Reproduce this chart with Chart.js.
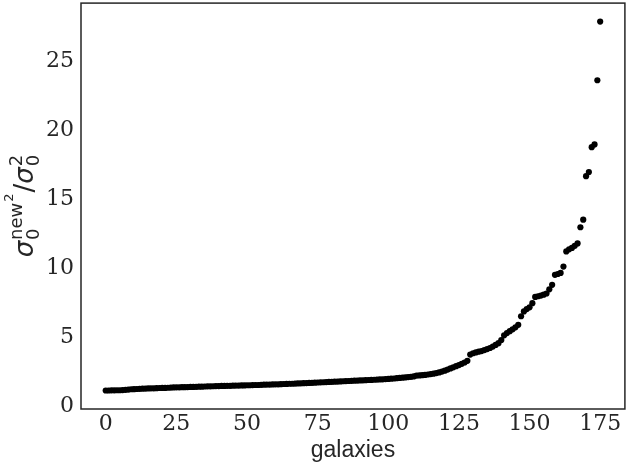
<!DOCTYPE html>
<html>
<head>
<meta charset="utf-8">
<script src="https://cdn.jsdelivr.net/npm/chart.js@4.4.0/dist/chart.umd.min.js"></script>
<style>
  html, body { margin: 0; padding: 0; background: #fff; }
  canvas { display: block; }
</style>
</head>
<body>
<canvas id="chart" width="628" height="467"></canvas>
<script>
// sigma0 new^2 / sigma0^2 per galaxy, sorted ascending
const ratios = [
  1.12, 1.12, 1.13, 1.13, 1.14, 1.14, 1.15, 1.17, 1.19, 1.21,
  1.22, 1.23, 1.24, 1.25, 1.26, 1.27, 1.28, 1.28, 1.29, 1.30,
  1.31, 1.31, 1.32, 1.33, 1.34, 1.35, 1.35, 1.36, 1.36, 1.37,
  1.38, 1.38, 1.39, 1.40, 1.40, 1.41, 1.42, 1.42, 1.43, 1.44,
  1.44, 1.45, 1.45, 1.46, 1.46, 1.47, 1.48, 1.48, 1.49, 1.49,
  1.50, 1.50, 1.51, 1.52, 1.52, 1.53, 1.54, 1.55, 1.55, 1.56,
  1.57, 1.57, 1.58, 1.59, 1.60, 1.61, 1.61, 1.62, 1.63, 1.64,
  1.65, 1.66, 1.67, 1.68, 1.69, 1.70, 1.71, 1.72, 1.73, 1.74,
  1.75, 1.76, 1.77, 1.78, 1.79, 1.80, 1.81, 1.82, 1.83, 1.84,
  1.85, 1.86, 1.87, 1.88, 1.89, 1.90, 1.91, 1.92, 1.93, 1.95,
  1.96, 1.98, 1.99, 2.01, 2.03, 2.05, 2.07, 2.09, 2.11, 2.14,
  2.20, 2.21, 2.23, 2.25, 2.28, 2.31, 2.34, 2.38, 2.43, 2.49,
  2.56, 2.64, 2.72, 2.80, 2.88, 2.96, 3.05, 3.15, 3.27, 3.72,
  3.82, 3.88, 3.93, 3.98, 4.05, 4.12, 4.20, 4.30, 4.42, 4.55,
  4.78, 5.12, 5.28, 5.42, 5.55, 5.70, 5.88, 6.50, 6.85, 7.02,
  7.15, 7.45, 7.90, 7.95, 8.00, 8.06, 8.15, 8.45, 8.78, 9.50,
  9.56, 9.64, 10.10, 11.20, 11.35, 11.45, 11.60, 11.78, 12.95, 13.50,
  16.65, 16.95, 18.75, 18.95, 23.60, 27.85
];
const galaxyIdx = ratios.map((_, i) => i);
const xTicks = [0, 25, 50, 75, 100, 125, 150, 175];
const yTicks = [0, 5, 10, 15, 20, 25];

const INK = '#262626';

// box around the plot area
const frame = {
  id: 'frame',
  afterDatasetsDraw(chart) {
    const { ctx, chartArea: a } = chart;
    ctx.save();
    ctx.strokeStyle = INK;
    ctx.lineWidth = 1.5;
    ctx.strokeRect(a.left, a.top, a.right - a.left, a.bottom - a.top);
    ctx.restore();
  }
};

// rotated y title with sub/superscripts
const yTitle = {
  id: 'yTitle',
  afterDraw(chart) {
    const c = chart.ctx;
    const it = s => `italic ${s}px "DejaVu Sans"`;
    const rm = s => `${s}px "DejaVu Sans"`;
    const runs = [];
    const put = (t, font, x, dy) => {
      c.font = font;
      runs.push({ t, font, x, dy });
      return c.measureText(t).width;
    };
    let x = 0;
    x += put('σ', it(26), x, 0);
    let w0 = put('0', rm(18), x + 1, 6);
    let wn = put('new', rm(18), x + 1, -11);
    let w2 = put('2', rm(13), x + 1 + wn + 1, -20);
    x = Math.max(x + 1 + w0, x + 1 + wn + 1 + w2) + 1;
    x += put('/', rm(26), x, 0);
    x += put('σ', it(26), x, 0);
    w0 = put('0', rm(18), x + 1, 6);
    w2 = put('2', rm(18), x + 1, -11);
    x += 1 + Math.max(w0, w2);

    const a = chart.chartArea;
    c.save();
    c.translate(33, (a.top + a.bottom) / 2);
    c.rotate(-Math.PI / 2);
    c.fillStyle = INK;
    c.textBaseline = 'alphabetic';
    runs.forEach(r => {
      c.font = r.font;
      c.fillText(r.t, r.x - x / 2, r.dy);
    });
    c.restore();
  }
};

const ctx = document.getElementById('chart').getContext('2d');
new Chart(ctx, {
  type: 'scatter',
  data: {
    datasets: [{
      data: galaxyIdx.map((g, i) => ({ x: g, y: ratios[i] })),
      backgroundColor: '#000',
      borderColor: '#000',
      borderWidth: 0,
      pointRadius: 3.1,
      pointHoverRadius: 3.1
    }]
  },
  options: {
    responsive: false,
    animation: false,
    layout: { padding: { top: 3, right: 1, left: 0, bottom: 0 } },
    plugins: { legend: { display: false }, tooltip: { enabled: false } },
    scales: {
      x: {
        type: 'linear',
        min: -8.75,
        max: 183.75,
        grid: { display: false, drawTicks: false },
        border: { display: false },
        afterBuildTicks: s => { s.ticks = xTicks.map(v => ({ value: v })); },
        afterFit: s => {
          s.height = 58;
          s.paddingLeft = 0;
          s.paddingRight = 0;
        },
        ticks: {
          font: { family: 'DejaVu Serif', size: 22 },
          color: INK,
          padding: 2,
          maxRotation: 0,
          autoSkip: false
        },
        title: {
          display: true,
          text: 'galaxies',
          font: { family: 'Liberation Sans', size: 23 },
          color: INK,
          padding: { top: 0, bottom: 3 }
        }
      },
      y: {
        type: 'linear',
        min: -0.22,
        max: 29.19,
        grid: { display: false, drawTicks: false },
        border: { display: false },
        afterBuildTicks: s => { s.ticks = yTicks.map(v => ({ value: v })); },
        afterFit: s => {
          s.width = 81;
          s.paddingTop = 0;
          s.paddingBottom = 0;
        },
        ticks: {
          font: { family: 'DejaVu Serif', size: 22 },
          color: INK,
          padding: 7,
          autoSkip: false
        }
      }
    }
  },
  plugins: [frame, yTitle]
});
</script>
</body>
</html>
